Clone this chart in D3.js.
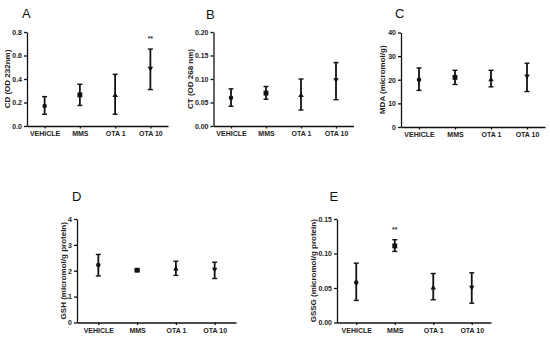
<!DOCTYPE html>
<html>
<head>
<meta charset="utf-8">
<script src="https://cdn.jsdelivr.net/npm/d3@7"></script>
<style>
  body { margin: 0; background: #fff; }
  svg { display: block; font-family: Arial, "Liberation Sans", sans-serif; }
  .tick text { font-weight: bold; font-size: 7px; fill: #222; }
  .axis path, .axis line { stroke: #111; stroke-width: 1.3; }
</style>
</head>
<body>
<svg width="550" height="338"></svg>
<script>
const groups = ['VEHICLE', 'MMS', 'OTA 1', 'OTA 10'];

// A - CD
const cdMean = [0.17, 0.265, 0.26, 0.49];
const cdLow  = [0.10, 0.175, 0.10, 0.31];
const cdHigh = [0.25, 0.355, 0.44, 0.655];

// B - CT
const ctMean = [0.060, 0.070, 0.065, 0.098];
const ctLow  = [0.042, 0.057, 0.034, 0.056];
const ctHigh = [0.079, 0.084, 0.100, 0.135];

// C - MDA
const mdaMean = [20, 21, 20, 21.5];
const mdaLow  = [15.5, 18, 17, 15];
const mdaHigh = [25, 24, 24, 27];

// D - GSH
const gshMean = [2.22, 2.02, 2.07, 2.05];
const gshLow  = [1.80, 2.00, 1.82, 1.70];
const gshHigh = [2.63, 2.04, 2.37, 2.33];

// E - GSSG
const gssgMean = [0.058, 0.111, 0.050, 0.051];
const gssgLow  = [0.032, 0.103, 0.033, 0.028];
const gssgHigh = [0.086, 0.120, 0.071, 0.072];

const svg = d3.select('svg');

// marker per group (prism style)
const symbols = [d3.symbolCircle, d3.symbolSquare, d3.symbolTriangle, d3.symbolTriangle];
const symSizes = [16, 24, 13, 13];
const rotations = [0, 0, 0, 180];

function panel(p) {
    const x = d3.scalePoint()
        .domain(groups)
        .range([p.x0, p.x1])
        .padding(p.pad);

    const y = d3.scaleLinear()
        .domain(p.domain)
        .range([p.y1, p.y0]);

    const g = svg.append('g');

    // y axis
    g.append('g')
        .attr('class', 'axis')
        .attr('transform', 'translate(' + p.x0 + ',0)')
        .call(d3.axisLeft(y).tickValues(p.ticks).tickFormat(p.fmt).tickSize(3).tickPadding(2).tickSizeOuter(0));

    // x axis
    g.append('g')
        .attr('class', 'axis')
        .attr('transform', 'translate(0,' + p.y1 + ')')
        .call(d3.axisBottom(x).tickSize(2.5).tickPadding(3).tickSizeOuter(0));

    // axis title
    g.append('text')
        .attr('transform', 'translate(' + p.tx + ',' + ((p.y0 + p.y1) / 2) + ') rotate(-90)')
        .attr('text-anchor', 'middle')
        .attr('dy', '0.35em')
        .style('font-size', '8px')
        .style('font-weight', 'bold')
        .attr('fill', '#222')
        .text(p.title);

    // panel letter
    g.append('text')
        .attr('x', p.lx)
        .attr('y', p.ly)
        .style('font-size', '13px')
        .attr('fill', '#111')
        .text(p.letter);

    const rows = groups.map((d, i) => ({ k: d, i: i, m: p.mean[i], lo: p.low[i], hi: p.high[i] }));

    // error bars
    const eb = g.selectAll('.eb').data(rows).enter().append('g').attr('class', 'eb');
    eb.append('line')
        .attr('x1', d => x(d.k)).attr('x2', d => x(d.k))
        .attr('y1', d => y(d.lo)).attr('y2', d => y(d.hi))
        .attr('stroke', '#111').attr('stroke-width', 1.8);
    eb.append('line')
        .attr('x1', d => x(d.k) - 2.5).attr('x2', d => x(d.k) + 2.5)
        .attr('y1', d => y(d.lo)).attr('y2', d => y(d.lo))
        .attr('stroke', '#111').attr('stroke-width', 1.4);
    eb.append('line')
        .attr('x1', d => x(d.k) - 2.5).attr('x2', d => x(d.k) + 2.5)
        .attr('y1', d => y(d.hi)).attr('y2', d => y(d.hi))
        .attr('stroke', '#111').attr('stroke-width', 1.4);

    // markers
    g.selectAll('.pt').data(rows).enter().append('path')
        .attr('d', d => d3.symbol().type(symbols[d.i]).size(symSizes[d.i])())
        .attr('transform', d => 'translate(' + x(d.k) + ',' + y(d.m) + ') rotate(' + rotations[d.i] + ')')
        .attr('fill', '#111');

    // significance
    if (p.star) {
        g.append('text')
            .attr('x', x(p.star.k))
            .attr('y', y(p.star.v))
            .attr('text-anchor', 'middle')
            .style('font-size', '7px')
            .style('font-weight', 'bold')
            .attr('fill', '#333')
            .text('**');
    }
}

panel({ letter: 'A', lx: 22, ly: 17.5, x0: 27, x1: 168, pad: 0.5, y0: 32, y1: 126,
    domain: [0, 0.8], ticks: [0, 0.2, 0.4, 0.6, 0.8], fmt: d3.format('.1f'),
    title: 'CD (OD 232nm)', tx: 7, mean: cdMean, low: cdLow, high: cdHigh,
    star: { k: 'OTA 10', v: 0.72 } });

panel({ letter: 'B', lx: 206, ly: 18.5, x0: 213.5, x1: 353.5, pad: 0.5, y0: 32, y1: 126,
    domain: [0, 0.2], ticks: [0, 0.05, 0.10, 0.15, 0.20], fmt: d3.format('.2f'),
    title: 'CT (OD 268 nm)', tx: 190, mean: ctMean, low: ctLow, high: ctHigh });

panel({ letter: 'C', lx: 395, ly: 17.5, x0: 401, x1: 545, pad: 0.5, y0: 32.5, y1: 127,
    domain: [0, 40], ticks: [0, 10, 20, 30, 40], fmt: d3.format('d'),
    title: 'MDA (micromol/g)', tx: 382.5, mean: mdaMean, low: mdaLow, high: mdaHigh });

panel({ letter: 'D', lx: 72, ly: 200.5, x0: 77, x1: 236, pad: 0.55, y0: 219, y1: 322.5,
    domain: [0, 4], ticks: [0, 1, 2, 3, 4], fmt: d3.format('d'),
    title: 'GSH (micromol/g protein)', tx: 63.5, mean: gshMean, low: gshLow, high: gshHigh });

panel({ letter: 'E', lx: 329.5, ly: 200.5, x0: 337, x1: 491, pad: 0.5, y0: 219, y1: 322.5,
    domain: [0, 0.15], ticks: [0, 0.05, 0.10, 0.15], fmt: d3.format('.2f'),
    title: 'GSSG (micromol/g protein)', tx: 313.5, mean: gssgMean, low: gssgLow, high: gssgHigh,
    star: { k: 'MMS', v: 0.131 } });
</script>
</body>
</html>
